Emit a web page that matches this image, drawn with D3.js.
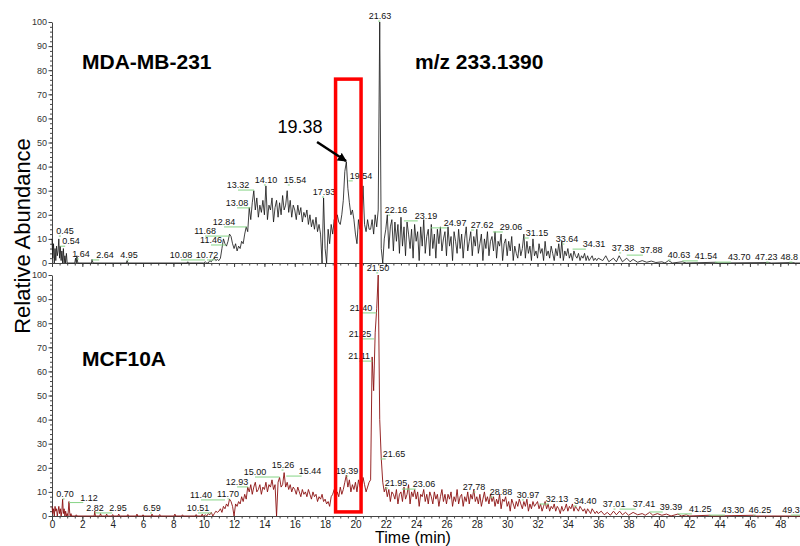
<!DOCTYPE html>
<html><head><meta charset="utf-8">
<script src="https://cdn.jsdelivr.net/npm/d3@7"></script>
<style>
body{margin:0;background:#fff}
svg{display:block;font-family:"Liberation Sans",Arial,sans-serif}
</style>
</head><body>
<svg id="c" width="800" height="546"></svg>
<script>
// ---------- DATA ----------
const yTicks = [0,10,20,30,40,50,60,70,80,90,100];
const xTicks = [0,2,4,6,8,10,12,14,16,18,20,22,24,26,28,30,32,34,36,38,40,42,44,46,48];

// MDA-MB-231 trace: sparse early part [time, abundance]
const mdaEarly = [[0,10],[0.05,2],[0.1,8],[0.15,0],[0.2,6],[0.25,1],[0.3,7],[0.35,3],[0.4,5],[0.45,10],[0.5,2],[0.54,7],[0.6,1],[0.65,5],[0.7,0],[0.75,6],[0.8,0],[0.85,3],[0.9,0],[0.95,4],[1.0,0],[1.5,0],[1.55,2],[1.6,0],[1.64,3],[1.7,0],[2.6,0],[2.64,1.5],[2.7,0],[4.9,0],[4.95,1],[5.0,0],[8.9,0],[8.95,0.5],[9.0,0],[9.95,0]];
// MDA-MB-231 dense part: 10.0 .. 36.0 min every 0.1 min
const mdaDenseStart = 10.0, mdaDenseStep = 0.1;
const mdaDense = [
 0,0.5,0,0,1,0.5,1.5,2,1,1.5,
 1,2,6,10,8,7,9,12,11,8,
 6,8,5,7,6,9,8,12,15,13,
 23,18,25,30,22,27,19,24,21,26,
 20,32,18,24,22,27,17,23,26,19,
 25,20,28,22,24,30,21,26,19,24,
 22,18,24,20,23,17,21,19,22,16,
 20,15,18,14,19,13,16,12,0,27,
 6,0,14,8,16,12,18,15,20,17,
 16,20,26,38,42,31,25,20,22,18,
 12,8,18,14,20,32,16,13,18,14,
 14,18,12,20,15,22,100,6,0,10,
 14,20,6,15,18,5,17,9,16,4,
 19,7,15,3,17,12,6,14,2,16,
 9,13,1,15,7,18,4,11,14,3,
 16,6,12,2,14,8,15,5,10,13,
 3,15,7,11,1,13,9,4,14,6,
 12,2,10,15,5,9,13,3,11,7,
 14,4,8,12,1,10,6,13,3,9,
 11,5,13,2,9,7,12,1,8,10,
 3,9,5,11,1,7,4,2,8,3,
 6,12,2,9,4,7,1,10,3,5,
 2,8,4,6,1,9,3,5,2,7,
 4,1,6,3,8,2,9,1,5,3,
 6,2,4,1,5,3,2,4,1,3,
 2,4,1,3,1,2,3,1,2,1,
 2];
const mdaTail = [[36.3,1],[36.5,3],[36.7,0.5],[37.0,2],[37.2,0.5],[37.38,3],[37.6,0.5],[37.88,2],[38.1,0.5],[38.3,1.5],[38.6,0.3],[38.9,1],[39.2,0.3],[39.5,0.8],[39.8,0.2],[40.2,0.5],[40.4,0],[40.63,1],[40.9,0],[41.54,0.5],[41.8,0],[43.7,0.3],[43.9,0],[47.23,0.2],[47.4,0],[48.8,0.2],[49,0],[49.3,0]];

// MCF10A trace
const mcfEarly = [[0,4],[0.05,1],[0.1,3],[0.15,0],[0.2,4],[0.25,2],[0.3,3],[0.35,0],[0.4,2],[0.45,4],[0.5,1],[0.55,3],[0.6,0],[0.65,2],[0.7,7],[0.75,1],[0.8,3],[0.85,0],[0.9,2],[0.95,0],[1.0,1],[1.05,0],[1.12,6],[1.17,1],[1.2,0],[1.25,1],[1.3,0],[1.55,0],[1.6,0.5],[1.65,0],[2.78,0],[2.82,2],[2.86,0],[3.15,0],[3.2,1],[3.25,0],[3.55,0],[3.6,0.8],[3.65,0],[3.95,0],[4.0,0.6],[4.05,0],[4.35,0],[4.4,0.8],[4.45,0],[4.95,0],[5.0,0.6],[5.05,0],[5.55,0],[5.6,0.8],[5.65,0],[5.95,0],[6.0,0.5],[6.05,0],[6.55,0],[6.59,0.8],[6.65,0],[7.05,0],[7.1,0.6],[7.15,0],[8.05,0],[8.1,0.8],[8.15,0],[8.55,0],[8.6,0.5],[8.65,0],[9.45,0],[9.5,0.6],[9.55,0],[9.85,0],[9.9,0.8],[9.95,0]];
const mcfDenseStart = 10.0, mcfDenseStep = 0.1;
const mcfDense = [
 0,0.5,0,1,0.5,1.5,0,1,2,1.5,
 2,3,1.5,4,3,5,4,7,6,4,
 0,5,4,6,5,8,6,9,7,12,
 10,13,9,12,14,10,11,13,9,12,
 11,14,10,13,12,15,11,13,0,14,
 16,12,13,18,12,14,11,13,10,12,
 11,9,12,10,8,11,9,10,8,11,
 9,7,10,8,9,6,8,7,9,6,
 7,5,6,4,8,9,11,7,10,8,
 12,9,11,14,17,12,15,10,13,11,
 14,10,15,12,11,16,13,10,12,14,
 15,66,52,76,86,100,40,24,14,10,
 12,8,11,6,10,9,7,11,5,9,
 10,6,12,7,9,13,5,10,8,11,
 7,10,4,9,8,11,6,9,5,10,
 8,5,10,7,9,4,8,11,6,9,
 5,9,7,10,4,8,6,11,5,8,
 9,4,8,6,10,5,9,7,11,6,
 8,5,9,4,7,10,6,8,5,9,
 6,8,4,7,5,9,3,7,6,8,
 4,6,2,7,5,3,6,4,7,5,
 3,6,4,7,2,5,3,6,4,5,
 6,3,5,2,4,6,3,5,2,4,
 3,5,2,4,3,1,4,2,3,5,
 2,4,3,5,2,4,3,2,4,3,
 2,3,1,3,2,1,3,2,1,2,
 1];
const mcfTail = [[36.2,2],[36.4,0.5],[36.6,1.5],[36.8,0.3],[37.01,2],[37.2,0.5],[37.41,2],[37.6,0.5],[37.8,1.5],[38.0,0.3],[38.3,1.5],[38.6,0.5],[38.9,1],[39.1,0.3],[39.39,1.5],[39.6,0.3],[39.9,1],[40.2,0.3],[40.5,0.8],[40.8,0],[41.25,0.8],[41.5,0],[41.8,0.5],[42.0,0],[43.3,0.3],[43.5,0],[46.25,0.3],[46.4,0],[49.3,0]];

// peak labels: text, label centre time, label baseline level
const mdaPeakNames = ["0.45","0.54","1.64","2.64","4.95","10.08","10.72","11.46","11.68","12.84","13.08","13.32","14.10","15.54","17.93","19.54","21.63","22.16","23.19","24.97","27.62","29.06","31.15","33.64","34.31","37.38","37.88","40.63","41.54","43.70","47.23","48.8"];
const mdaLabelT = [0.86,1.25,1.91,3.49,5.08,8.5,10.22,10.48,10.09,11.34,12.2,12.26,14.1,16.02,17.93,20.37,21.62,22.68,24.65,26.57,28.35,30.26,31.97,33.95,35.73,37.64,39.49,41.33,43.11,45.29,47.07,48.6];
const mdaLabelV = [12.0,7.8,2.5,2.1,2.1,2.1,2.1,8.3,12.0,15.8,23.7,31.1,33.2,33.2,28.2,34.9,101.2,20.7,18.3,15.4,14.5,13.7,11.2,8.7,6.6,5.0,4.1,2.1,1.7,1.2,1.2,1.2];
const mcfPeakNames = ["0.70","1.12","2.82","2.95","6.59","10.51","11.40","11.70","12.93","15.00","15.26","15.44","19.39","21.50","21.40","21.25","21.11","21.65","21.95","23.06","27.78","28.88","30.97","32.13","34.40","37.01","37.41","39.39","41.25","43.30","46.25","49.3"];
const mcfLabelT = [0.86,2.44,2.83,4.35,6.59,9.62,9.82,11.6,12.2,13.38,15.23,17.0,19.45,21.49,20.37,20.3,20.24,22.54,22.68,24.52,27.82,29.6,31.38,33.29,35.14,37.05,39.02,40.8,42.72,44.89,46.67,48.7];
const mcfLabelV = [7.9,6.4,2.2,2.1,2.1,2.1,7.5,7.9,12.9,17.0,19.9,17.4,17.4,101.7,85.1,74.3,65.1,24.5,12.4,12.0,10.8,8.7,7.5,5.8,5.0,3.7,3.7,2.5,1.7,1.2,1.2,1.2];

// annotations (data units)
const boxTimes = [18.69, 20.37];   // highlighted retention window
const arrowFrom = [17.47, 50.2], arrowTo = [19.38, 42.3];

// ---------- CHART ----------
const svg = d3.select("#c");
const x = d3.scaleLinear().domain([0, 49.3]).range([52, 800]);
const yTop = d3.scaleLinear().domain([0, 100]).range([263, 22]);
const yBot = d3.scaleLinear().domain([0, 100]).range([516, 275]);

function build(early, start, step, dense, tail) {
  const pts = early.slice();
  dense.forEach((v, i) => pts.push([+(start + i * step).toFixed(2), v]));
  return pts.concat(tail).sort((a, b) => a[0] - b[0]);
}
const mdaSeries = build(mdaEarly, mdaDenseStart, mdaDenseStep, mdaDense, mdaTail);
const mcfSeries = build(mcfEarly, mcfDenseStart, mcfDenseStep, mcfDense, mcfTail);

function yAxis(y) {
  const gMinor = svg.append("g").attr("transform", "translate(52,0)")
    .call(d3.axisLeft(y).tickValues(d3.range(0, 101, 2)).tickSize(2).tickFormat(""));
  gMinor.select(".domain").remove();
  gMinor.selectAll("line").attr("stroke", "#444");
  const g = svg.append("g").attr("transform", "translate(52,0)")
    .call(d3.axisLeft(y).tickValues(yTicks).tickSize(3.5).tickSizeOuter(0).tickPadding(1.5));
  g.select(".domain").attr("stroke", "#444");
  g.selectAll("line").attr("stroke", "#444");
  g.selectAll("text").attr("font-size", 9).attr("fill", "#333")
    .attr("font-family", "Liberation Sans, Arial, sans-serif");
}
function xAxis(y0, labels) {
  const gMinor = svg.append("g").attr("transform", `translate(0,${y0})`)
    .call(d3.axisBottom(x).tickValues(d3.range(0, 49.3, 0.5)).tickSize(2.5).tickFormat(""));
  gMinor.select(".domain").remove();
  gMinor.selectAll("line").attr("stroke", "#444");
  const g = svg.append("g").attr("transform", `translate(0,${y0})`)
    .call(d3.axisBottom(x).tickValues(xTicks).tickSize(4).tickSizeOuter(0).tickPadding(0.5));
  g.select(".domain").attr("stroke", "#444");
  g.selectAll("line").attr("stroke", "#444");
  if (labels) g.selectAll("text").attr("font-size", 10).attr("fill", "#222")
    .attr("font-family", "Liberation Sans, Arial, sans-serif");
  else g.selectAll("text").remove();
}
yAxis(yTop); yAxis(yBot);
xAxis(263, false); xAxis(516, true);

// traces
const lineTop = d3.line().x(d => x(d[0])).y(d => yTop(d[1]));
const lineBot = d3.line().x(d => x(d[0])).y(d => yBot(d[1]));
svg.append("path").datum(mdaSeries).attr("d", lineTop)
  .attr("fill", "none").attr("stroke", "#111").attr("stroke-width", 0.8);
svg.append("path").datum(mcfSeries).attr("d", lineBot)
  .attr("fill", "none").attr("stroke", "#8b1010").attr("stroke-width", 0.9);

// peak labels
function peakLabels(names, lt, lv, y) {
  const g = svg.append("g");
  names.forEach((n, i) => {
    const cx = x(lt[i]), by = y(lv[i]), px = x(parseFloat(n));
    const t = g.append("text").attr("x", cx).attr("y", by).attr("text-anchor", "middle")
      .attr("font-size", 9).attr("fill", "#111").text(n);
    const w = t.node().getComputedTextLength();
    let x1, x2;
    if (px < cx) { x1 = px; x2 = Math.max(px + 2, cx - w / 2 + 3); }
    else { x1 = Math.min(cx, px - 2); x2 = px; }
    g.insert("line", "text").attr("x1", x1).attr("x2", x2).attr("y1", by + 2).attr("y2", by + 2)
      .attr("stroke", "#86d486").attr("stroke-width", 1);
  });
}
peakLabels(mdaPeakNames, mdaLabelT, mdaLabelV, yTop);
peakLabels(mcfPeakNames, mcfLabelT, mcfLabelV, yBot);

// titles
const bold = {"font-weight": "bold", "font-size": 21, "fill": "#000"};
function txt(s, px, py, attrs) {
  const t = svg.append("text").attr("x", px).attr("y", py).text(s);
  Object.entries(attrs).forEach(([k, v]) => t.attr(k, v));
  return t;
}
txt("MDA-MB-231", 82, 69, bold);
txt("m/z 233.1390", 415, 69, bold);
txt("MCF10A", 82, 366, bold);
txt("Time (min)", 413, 542.5, {"font-size": 16, "text-anchor": "middle", "fill": "#000"});
svg.append("text").attr("transform", "translate(30,236) rotate(-90)")
  .attr("text-anchor", "middle").attr("font-size", 22).attr("fill", "#000").text("Relative Abundance");

// red box
svg.append("rect").attr("x", x(boxTimes[0])).attr("y", yTop(76.3))
  .attr("width", x(boxTimes[1]) - x(boxTimes[0])).attr("height", yBot(1.7) - yTop(76.3))
  .attr("fill", "none").attr("stroke", "#ff0000").attr("stroke-width", 3.5);

// arrow + label
svg.append("defs").append("marker").attr("id", "ah").attr("viewBox", "0 0 10 10")
  .attr("refX", 9).attr("refY", 5).attr("markerWidth", 9).attr("markerHeight", 9)
  .attr("markerUnits", "userSpaceOnUse").attr("orient", "auto")
  .append("path").attr("d", "M0,0 L10,5 L0,10 z").attr("fill", "#000");
svg.append("line").attr("x1", x(arrowFrom[0])).attr("y1", yTop(arrowFrom[1]))
  .attr("x2", x(arrowTo[0])).attr("y2", yTop(arrowTo[1]))
  .attr("stroke", "#000").attr("stroke-width", 2.5).attr("marker-end", "url(#ah)");
txt("19.38", x(16.35), yTop(53.9), {"font-size": 18, "text-anchor": "middle", "fill": "#000"});
</script>
</body></html>
